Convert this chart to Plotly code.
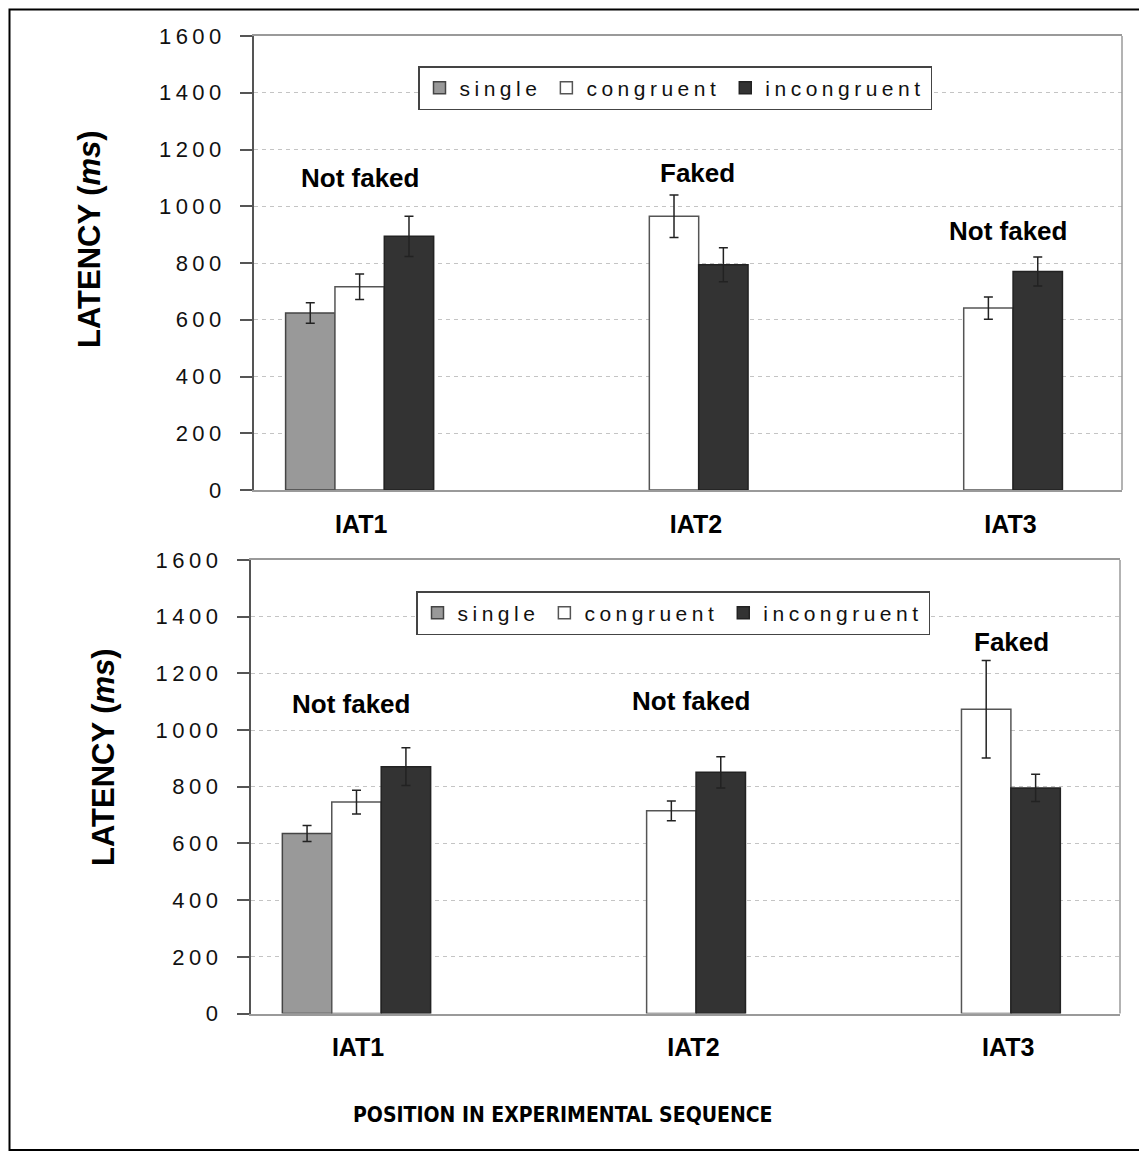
import plotly.graph_objects as go

# ---------------- data ----------------
categories = ["IAT1", "IAT2", "IAT3"]
series_names = ["single", "congruent", "incongruent"]

# top panel
top_single = [624, None, None]
top_single_err = [36, 0, 0]
top_congruent = [716, 965, 641]
top_congruent_err = [45, 75, 39]
top_incongruent = [894, 794, 770]
top_incongruent_err = [71, 60, 51]
top_notes = ["Not faked", "Faked", "Not faked"]
top_note_y = [1100, 1117, 913]

# bottom panel
bot_single = [635, None, None]
bot_single_err = [28, 0, 0]
bot_congruent = [746, 715, 1073]
bot_congruent_err = [42, 35, 172]
bot_incongruent = [871, 851, 796]
bot_incongruent_err = [67, 55, 48]
bot_notes = ["Not faked", "Not faked", "Faked"]
bot_note_y = [1091, 1101, 1309]

y_ticks = [0, 200, 400, 600, 800, 1000, 1200, 1400, 1600]

# ---------------- styling ----------------
PAGE_OFF = 8                     # default body margin of the html page
W, H = 1147 - PAGE_OFF, 1157 - PAGE_OFF
FONT = "Liberation Sans, Arial, sans-serif"
NARROW = "Liberation Sans Narrow, Arial Narrow, DejaVu Sans Condensed, sans-serif"


def px(x):
    return (x - PAGE_OFF) / W


def py(y):
    return 1 - (y - PAGE_OFF) / H


cat_pos = list(range(len(categories)))
bw = 0.157  # bar width in category units
fills = {"single": "#999999", "congruent": "#ffffff", "incongruent": "#333333"}
lines = {"single": "#444444", "congruent": "#555555", "incongruent": "#222222"}
offsets = {"single": -1.5 * bw, "congruent": -0.5 * bw, "incongruent": 0.5 * bw}


def spaced(t, s=4.5):
    return f'<span style="letter-spacing:{s}px">{t}</span>'


fig = go.Figure()

panels = [
    ("x", "y", "legend", [top_single, top_congruent, top_incongruent],
     [top_single_err, top_congruent_err, top_incongruent_err]),
    ("x2", "y2", "legend2", [bot_single, bot_congruent, bot_incongruent],
     [bot_single_err, bot_congruent_err, bot_incongruent_err]),
]

for xa, ya, lg, vals, errs in panels:
    for name, v, e in zip(series_names, vals, errs):
        fig.add_trace(go.Bar(
            x=cat_pos, y=v, name=spaced(name, 4.5), legend=lg,
            xaxis=xa, yaxis=ya, width=bw, offset=offsets[name],
            marker=dict(color=fills[name], line=dict(color=lines[name], width=1.5)),
            error_y=dict(type="data", array=e, visible=True, color="#222222",
                         thickness=1.5, width=4.5),
            showlegend=True,
        ))

x_tickvals = [0.005, 1.07, 2.07]
common_x = dict(
    range=[-0.336, 2.425], showgrid=False, zeroline=False, showline=True,
    linecolor="#9a9a9a", linewidth=1.5, mirror=True, ticks="",
    tickvals=x_tickvals, ticktext=[f"<b>{c}</b>" for c in categories],
    tickfont=dict(family=FONT, size=25, color="#000"), ticklabelstandoff=11,
)
common_y = dict(
    range=[0, 1600], tickvals=y_ticks,
    ticktext=[spaced(str(t), 4.5) for t in y_ticks],
    tickfont=dict(family=FONT, size=22, color="#111"),
    showline=True, linecolor="#555555", linewidth=1.5, ticks="outside",
    ticklen=12, tickwidth=1.5, tickcolor="#555555", zeroline=False,
    showgrid=True, gridcolor="#c4c4c4", gridwidth=1, griddash="4px,4px",
    ticklabelstandoff=10,
)

legend_common = dict(orientation="h", xanchor="left", yanchor="top",
                     bgcolor="white", bordercolor="#444", borderwidth=1.5,
                     font=dict(family=FONT, size=21, color="#111"))

fig.update_layout(
    width=W, height=H, margin=dict(l=0, r=0, t=0, b=0, autoexpand=False),
    paper_bgcolor="white", plot_bgcolor="white", barmode="overlay",
    xaxis=dict(domain=[px(254), px(1122)], anchor="y", **common_x),
    yaxis=dict(domain=[py(490), py(36)], anchor="x", **common_y),
    xaxis2=dict(domain=[px(250.7), px(1120)], anchor="y2", **common_x),
    yaxis2=dict(domain=[py(1013.5), py(560)], anchor="x2", **common_y),
    legend=dict(x=px(418), y=py(66), **legend_common),
    legend2=dict(x=px(416), y=py(591), **legend_common),
    showlegend=True,
)

# right border of each plot area (light grey)
for xa, ya in [("x", "y"), ("x2", "y2")]:
    fig.add_shape(type="line", xref=f"{xa} domain", yref=f"{ya} domain",
                  x0=1, x1=1, y0=0, y1=1, line=dict(color="#9a9a9a", width=1.5))

# outer frame (kept inside the drawable area)
fig.add_shape(type="rect", xref="paper", yref="paper",
              x0=px(9.5), x1=px(1140), y0=py(1150), y1=py(9.5),
              line=dict(color="#000", width=2))

# condition notes
note_x_top = [0.0, 1.076, 2.062]
note_x_bot = [-0.016, 1.063, 2.079]
for xs, ys, notes, xa, ya in [(note_x_top, top_note_y, top_notes, "x", "y"),
                              (note_x_bot, bot_note_y, bot_notes, "x2", "y2")]:
    for xv, yv, t in zip(xs, ys, notes):
        fig.add_annotation(x=xv, y=yv, xref=xa, yref=ya, text=f"<b>{t}</b>",
                           showarrow=False, xanchor="center", yanchor="middle",
                           font=dict(family=FONT, size=26, color="#000"))

# y titles
for xp, yp in [(89, 239), (103, 757)]:
    fig.add_annotation(x=px(xp), y=py(yp), xref="paper", yref="paper",
                       xanchor="center", yanchor="middle",
                       text="<b>LATENCY (<i>ms</i>)</b>", textangle=-90, showarrow=False,
                       font=dict(family=FONT, size=31, color="#000"))

# x title
fig.add_annotation(x=px(563), y=py(1114.5), xref="paper", yref="paper",
                   xanchor="center", yanchor="middle",
                   text="<b>POSITION IN EXPERIMENTAL SEQUENCE</b>", showarrow=False,
                   font=dict(family=NARROW, size=21, color="#000"))

fig.write_html("out.html")
